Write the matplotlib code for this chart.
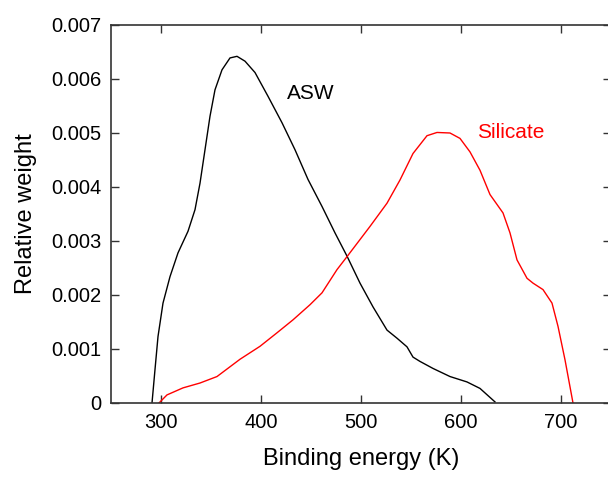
import numpy as np
import matplotlib.pyplot as plt

plt.rcParams['font.family'] = ['Liberation Sans', 'DejaVu Sans']

# binding energy distributions
asw_k = [291, 294, 297, 302, 309, 317, 327, 334, 339, 344, 349, 354, 361, 369,
         376, 384, 394, 407, 421, 434, 447, 461, 474, 486, 499, 512, 526, 536,
         546, 552, 559, 572, 589, 606, 619, 634]
asw_w = [0, 0.00062, 0.00123, 0.00185, 0.00234, 0.00278, 0.00318, 0.00358,
         0.00407, 0.00469, 0.00531, 0.0058, 0.00617, 0.00639, 0.00642, 0.00633,
         0.00612, 0.00568, 0.00519, 0.00469, 0.00414, 0.00364, 0.00315, 0.00272,
         0.00222, 0.00178, 0.00135, 0.0012, 0.00104, 0.00085, 0.00077, 0.00064,
         0.00049, 0.00039, 0.00027, 0.00002]

sil_k = [298, 306, 322, 339, 356, 379, 399, 416, 432, 449, 461, 476, 486, 509,
         526, 539, 552, 566, 576, 589, 599, 609, 619, 629, 642, 649, 656, 666,
         672, 682, 691, 697, 704, 712]
sil_w = [0, 0.00015, 0.00028, 0.00037, 0.00049, 0.00081, 0.00105, 0.0013,
         0.00154, 0.00182, 0.00204, 0.00247, 0.00271, 0.00327, 0.0037, 0.00413,
         0.00462, 0.00495, 0.00501, 0.005, 0.0049, 0.00465, 0.00431, 0.00386,
         0.00352, 0.00315, 0.00265, 0.00231, 0.00222, 0.0021, 0.00185, 0.00142,
         0.0008, 0.0]

fig = plt.figure(figsize=(6.08, 4.78), dpi=100)
ax = fig.add_axes([111/608, 75/478, 500/608, 378/478])

ax.plot(asw_k, asw_w, color='black', lw=1.0)
ax.plot(sil_k, sil_w, color='red', lw=1.0)

ax.set_xlim(250, 750)
ax.set_ylim(0, 0.007)
ax.set_xticks([300, 400, 500, 600, 700])
ax.set_yticks(np.arange(0, 0.0071, 0.001))
ax.set_yticklabels(['0', '0.001', '0.002', '0.003', '0.004', '0.005', '0.006', '0.007'])

ax.tick_params(direction='in', length=6, width=1, colors='#333333',
               labelcolor='black', labelsize=14.5, top=True, right=True, pad=7)
for s in ax.spines.values():
    s.set_color('#333333')
    s.set_linewidth(1.2)

ax.set_xlabel('Binding energy (K)', fontsize=17, labelpad=12)
ax.set_ylabel('Relative weight', fontsize=17, labelpad=10)

ax.text(426, 0.00574, 'ASW', fontsize=15, color='black', va='center')
ax.text(616, 0.005, 'Silicate', fontsize=15, color='red', va='center')

fig.savefig('out.png', dpi=100)
